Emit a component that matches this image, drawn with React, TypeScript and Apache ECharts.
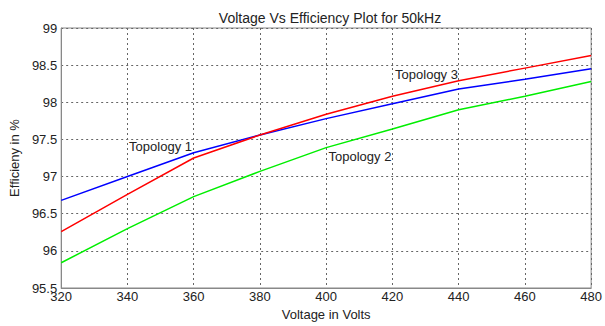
import React, { useEffect, useRef } from "react";
import * as echarts from "echarts";

const voltages = [320, 340, 360, 380, 400, 420, 440, 460, 480];
const topology1 = [96.68, 97.0, 97.32, 97.56, 97.78, 97.98, 98.18, 98.31, 98.45];
const topology2 = [95.84, 96.3, 96.73, 97.07, 97.39, 97.64, 97.9, 98.08, 98.28];
const topology3 = [96.26, 96.76, 97.25, 97.56, 97.84, 98.08, 98.29, 98.46, 98.63];
const xTicks = { min: 320, max: 480, interval: 20 };
const yTicks = { min: 95.5, max: 99, interval: 0.5 };
const annotations = [
  { text: "Topology 1", x: 340.5, y: 97.4 },
  { text: "Topology 3", x: 420.8, y: 98.37 },
  { text: "Topology 2", x: 400.7, y: 97.27 },
];

const FONT = "Liberation Sans, Arial, sans-serif";
const TXT = "#222";

export default function App() {
  const ref = useRef<HTMLDivElement>(null);
  useEffect(() => {
    if (!ref.current) return;
    const chart = echarts.init(ref.current, null, { renderer: "svg" });
    const pair = (vals: number[]) => voltages.map((v, i) => [v, vals[i]]);
    const line = (name: string, vals: number[], color: string) => ({
      name,
      type: "line",
      data: pair(vals),
      showSymbol: false,
      symbol: "none",
      lineStyle: { color, width: 1.5 },
      z: 3,
    });
    chart.setOption({
      animation: false,
      backgroundColor: "#fff",
      textStyle: { fontFamily: FONT },
      title: {
        text: "Voltage Vs Efficiency Plot for 50kHz",
        left: 325,
        top: 6,
        textAlign: "center",
        textStyle: { fontSize: 14, fontWeight: "normal", color: TXT, fontFamily: FONT },
      },
      grid: {
        left: 56,
        right: 11,
        top: 28,
        bottom: 38,
        show: true,
        borderColor: "#888",
        borderWidth: 1,
        backgroundColor: "transparent",
      },
      xAxis: {
        type: "value",
        min: xTicks.min,
        max: xTicks.max,
        interval: xTicks.interval,
        name: "Voltage in Volts",
        nameLocation: "middle",
        nameGap: 17,
        nameTextStyle: { fontSize: 13, color: TXT, fontFamily: FONT },
        axisLine: { show: true, lineStyle: { color: "#888" } },
        axisTick: { show: false },
        axisLabel: { fontSize: 13, color: TXT, margin: 2, fontFamily: FONT },
        splitLine: { show: true, lineStyle: { color: "#666", type: [2, 3], width: 1 } },
      },
      yAxis: {
        type: "value",
        min: yTicks.min,
        max: yTicks.max,
        interval: yTicks.interval,
        name: "Efficieny in %",
        nameLocation: "middle",
        nameGap: 28,
        nameTextStyle: { fontSize: 13, color: TXT, fontFamily: FONT },
        axisLine: { show: true, lineStyle: { color: "#888" } },
        axisTick: { show: false },
        axisLabel: { fontSize: 13, color: TXT, margin: 4, fontFamily: FONT },
        splitLine: { show: true, lineStyle: { color: "#666", type: [2, 3], width: 1 } },
      },
      series: [
        line("Topology 1", topology1, "#0000ff"),
        line("Topology 2", topology2, "#00ee00"),
        {
          ...line("Topology 3", topology3, "#ff0000"),
          markPoint: {
            symbol: "circle",
            symbolSize: 0,
            silent: true,
            data: annotations.map((a) => ({
              coord: [a.x, a.y],
              label: {
                show: true,
                formatter: a.text,
                position: [0, 0],
                align: "left",
                verticalAlign: "middle",
                fontSize: 13,
                color: TXT,
                fontFamily: FONT,
              },
            })),
          },
        },
      ],
    });
    return () => chart.dispose();
  }, []);
  return (
    <div
      ref={ref}
      style={{ position: "fixed", left: 0, top: 0, width: 605, height: 326 }}
    />
  );
}
